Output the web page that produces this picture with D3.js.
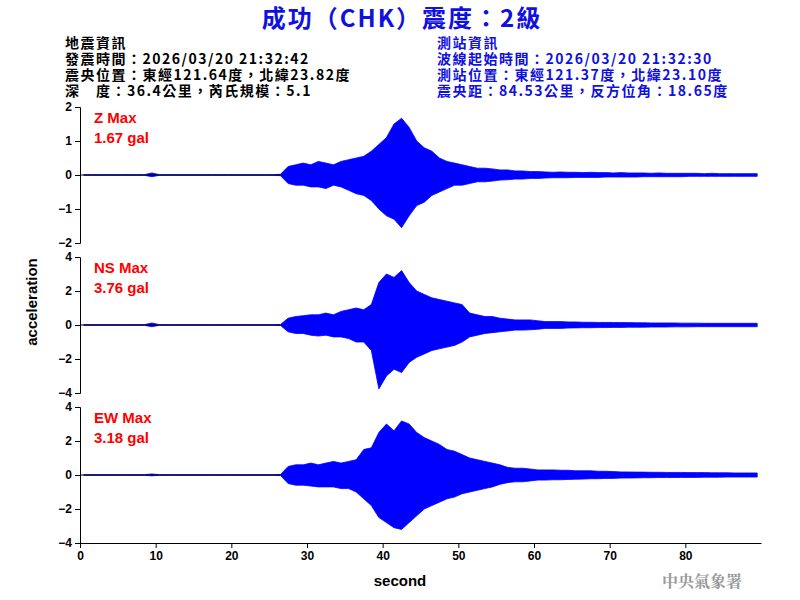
<!DOCTYPE html>
<html><head><meta charset="utf-8">
<script src="https://cdn.jsdelivr.net/npm/d3@7"></script>
<style>body{margin:0;background:#fff}</style></head>
<body><svg id="c" width="800" height="600"></svg>
<script>
// one value per 1-second bin, t = 0..89 (bin max / bin min)
const seconds = d3.range(0, 90);
const zMax = [0.01,0.01,0.01,0.01,0.01,0.01,0.01,0.01,0.01,0.06,0.01,0.01,0.01,0.01,0.01,0.01,0.01,0.01,0.01,0.01,0.01,0.01,0.01,0.01,0.01,0.01,0.02,0.25,0.3,0.35,0.3,0.4,0.35,0.3,0.4,0.45,0.5,0.55,0.7,0.9,1.1,1.5,1.67,1.4,1.0,0.8,0.7,0.5,0.4,0.35,0.3,0.25,0.2,0.2,0.18,0.15,0.15,0.12,0.12,0.1,0.1,0.09,0.08,0.09,0.08,0.08,0.07,0.08,0.07,0.07,0.06,0.07,0.06,0.06,0.06,0.05,0.06,0.05,0.05,0.05,0.05,0.05,0.04,0.05,0.04,0.04,0.04,0.04,0.04,0.04];
const zMin = [-0.01,-0.01,-0.01,-0.01,-0.01,-0.01,-0.01,-0.01,-0.01,-0.05,-0.01,-0.01,-0.01,-0.01,-0.01,-0.01,-0.01,-0.01,-0.01,-0.01,-0.01,-0.01,-0.01,-0.01,-0.01,-0.01,-0.02,-0.25,-0.3,-0.3,-0.35,-0.35,-0.4,-0.3,-0.35,-0.45,-0.55,-0.6,-0.75,-1.0,-1.2,-1.3,-1.55,-1.2,-0.9,-0.8,-0.6,-0.5,-0.4,-0.3,-0.3,-0.25,-0.2,-0.2,-0.18,-0.15,-0.14,-0.12,-0.12,-0.1,-0.1,-0.09,-0.08,-0.08,-0.08,-0.07,-0.07,-0.07,-0.07,-0.06,-0.06,-0.06,-0.06,-0.06,-0.05,-0.05,-0.05,-0.05,-0.05,-0.05,-0.04,-0.04,-0.04,-0.04,-0.04,-0.04,-0.04,-0.04,-0.04,-0.04];
const nsMax = [0.02,0.02,0.02,0.02,0.02,0.02,0.02,0.02,0.02,0.12,0.02,0.02,0.02,0.02,0.02,0.02,0.02,0.02,0.02,0.02,0.02,0.02,0.02,0.02,0.02,0.02,0.03,0.4,0.5,0.55,0.6,0.6,0.7,0.6,0.8,0.9,1.0,0.9,1.2,2.5,3.0,2.8,3.2,2.5,2.0,1.8,1.6,1.5,1.4,1.3,1.2,0.7,0.6,0.5,0.5,0.4,0.35,0.3,0.3,0.3,0.25,0.2,0.2,0.2,0.18,0.18,0.16,0.16,0.15,0.15,0.15,0.14,0.14,0.13,0.13,0.12,0.12,0.12,0.12,0.11,0.11,0.11,0.1,0.1,0.1,0.1,0.1,0.1,0.1,0.1];
const nsMin = [-0.02,-0.02,-0.02,-0.02,-0.02,-0.02,-0.02,-0.02,-0.02,-0.1,-0.02,-0.02,-0.02,-0.02,-0.02,-0.02,-0.02,-0.02,-0.02,-0.02,-0.02,-0.02,-0.02,-0.02,-0.02,-0.02,-0.03,-0.4,-0.5,-0.5,-0.6,-0.65,-0.6,-0.7,-0.7,-0.8,-1.0,-1.0,-1.5,-3.76,-3.0,-2.6,-2.8,-2.2,-1.9,-1.7,-1.5,-1.4,-1.3,-1.2,-1.0,-0.7,-0.6,-0.5,-0.45,-0.4,-0.35,-0.3,-0.3,-0.28,-0.25,-0.2,-0.2,-0.2,-0.18,-0.17,-0.16,-0.16,-0.15,-0.15,-0.14,-0.14,-0.13,-0.13,-0.13,-0.12,-0.12,-0.12,-0.11,-0.11,-0.11,-0.1,-0.1,-0.1,-0.1,-0.1,-0.1,-0.1,-0.1,-0.1];
const ewMax = [0.02,0.02,0.02,0.02,0.02,0.02,0.02,0.02,0.02,0.06,0.02,0.02,0.02,0.02,0.02,0.02,0.02,0.02,0.02,0.02,0.02,0.02,0.02,0.02,0.02,0.02,0.03,0.5,0.6,0.6,0.7,0.6,0.7,0.8,0.7,0.8,0.9,1.5,1.6,2.5,3.0,2.6,3.18,3.0,2.5,2.2,2.0,1.8,1.5,1.4,1.2,1.0,0.9,0.8,0.7,0.6,0.45,0.4,0.4,0.35,0.3,0.3,0.3,0.28,0.28,0.25,0.25,0.25,0.22,0.22,0.2,0.18,0.18,0.17,0.17,0.16,0.16,0.15,0.15,0.15,0.14,0.14,0.14,0.13,0.13,0.13,0.12,0.12,0.12,0.12];
const ewMin = [-0.02,-0.02,-0.02,-0.02,-0.02,-0.02,-0.02,-0.02,-0.02,-0.05,-0.02,-0.02,-0.02,-0.02,-0.02,-0.02,-0.02,-0.02,-0.02,-0.02,-0.02,-0.02,-0.02,-0.02,-0.02,-0.02,-0.03,-0.5,-0.6,-0.6,-0.65,-0.7,-0.7,-0.7,-0.8,-0.8,-1.0,-1.4,-1.8,-2.5,-2.8,-3.1,-3.2,-2.8,-2.4,-2.0,-1.8,-1.6,-1.4,-1.3,-1.1,-1.0,-0.9,-0.8,-0.7,-0.55,-0.45,-0.4,-0.4,-0.35,-0.3,-0.3,-0.28,-0.28,-0.26,-0.25,-0.24,-0.22,-0.22,-0.2,-0.2,-0.18,-0.18,-0.17,-0.16,-0.16,-0.15,-0.15,-0.15,-0.14,-0.14,-0.14,-0.13,-0.13,-0.13,-0.12,-0.12,-0.12,-0.12,-0.12];
const panelLabels = ["Z Max","NS Max","EW Max"];
const peakLabels = ["1.67 gal","3.76 gal","3.18 gal"];
const panelLimits = [2,4,4];
const xTicks = [0,10,20,30,40,50,60,70,80];
const headerLeft = ["地震資訊","發震時間：2026/03/20 21:32:42","震央位置：東經121.64度，北緯23.82度","深　度：36.4公里，芮氏規模：5.1"];
const headerRight = ["測站資訊","波線起始時間：2026/03/20 21:32:30","測站位置：東經121.37度，北緯23.10度","震央距：84.53公里，反方位角：18.65度"];

const svg = d3.select("#c");
const F = "Arial, 'Liberation Sans', sans-serif";
const CJK = "'Noto Sans CJK TC', sans-serif";
svg.append("text").attr("x",402).attr("y",27).attr("text-anchor","middle").attr("fill","#1010e0")
  .attr("font-family",CJK).attr("font-size",24).attr("letter-spacing",2).attr("font-weight","bold").text("成功（CHK）震度：2級");
headerLeft.forEach((t,i)=>svg.append("text").attr("x",65).attr("y",48+i*16).attr("font-family",CJK)
  .attr("font-size",14).attr("letter-spacing",1.5).attr("font-weight","bold").attr("fill","#000").text(t));
headerRight.forEach((t,i)=>svg.append("text").attr("x",437).attr("y",48+i*16).attr("font-family",CJK)
  .attr("font-size",14).attr("letter-spacing",1.5).attr("font-weight","bold").attr("fill","#1010e0").text(t));

const x = d3.scaleLinear().domain([0,90]).range([80,761]);
const tops = [107,257,407], H = 136;
const series = [[zMax,zMin],[nsMax,nsMin],[ewMax,ewMin]];
series.forEach((s,i)=>{
  const L = panelLimits[i];
  const y = d3.scaleLinear().domain([-L,L]).range([tops[i]+H,tops[i]]);
  const pts = seconds.map((t,j)=>({t:t+0.5, hi:s[0][j], lo:s[1][j]}));
  svg.append("path").datum(pts)
    .attr("d",d3.area().x(d=>x(d.t)).y0(d=>y(d.lo)).y1(d=>y(d.hi)))
    .attr("fill","#0000ff").attr("stroke","#0000ff").attr("stroke-width",0.8);
  svg.append("line").attr("x1",x(0)).attr("x2",x(26.5)).attr("y1",y(0)).attr("y2",y(0)).attr("stroke","#000").attr("stroke-width",1);
  const ay = svg.append("g").attr("transform",`translate(80,0)`)
    .call(d3.axisLeft(y).tickValues(d3.range(-L,L+1,L/2)).tickSize(5).tickFormat(d3.format("d")));
  ay.selectAll("text").attr("font-family",F).attr("font-size",12).attr("font-weight","bold");
  svg.append("text").attr("x",94).attr("y",tops[i]+16).attr("fill","#f00").attr("font-family",F)
    .attr("font-size",15).attr("font-weight","bold").text(panelLabels[i]);
  svg.append("text").attr("x",94).attr("y",tops[i]+36).attr("fill","#f00").attr("font-family",F)
    .attr("font-size",15).attr("font-weight","bold").text(peakLabels[i]);
});
const ax = svg.append("g").attr("transform","translate(0,543)")
  .call(d3.axisBottom(x).tickValues(xTicks).tickSize(5).tickSizeOuter(0));
ax.selectAll("text").attr("font-family",F).attr("font-size",12).attr("font-weight","bold");
svg.append("text").attr("transform","translate(37,302) rotate(-90)").attr("text-anchor","middle")
  .attr("font-family",F).attr("font-size",15).attr("font-weight","bold").text("acceleration");
svg.append("text").attr("x",400).attr("y",586).attr("text-anchor","middle")
  .attr("font-family",F).attr("font-size",15).attr("font-weight","bold").text("second");
svg.append("text").attr("x",702).attr("y",587).attr("text-anchor","middle").attr("fill","#999")
  .attr("font-family","'Noto Serif CJK TC', "+CJK).attr("font-size",16).attr("font-weight","bold").text("中央氣象署");
</script></body></html>
